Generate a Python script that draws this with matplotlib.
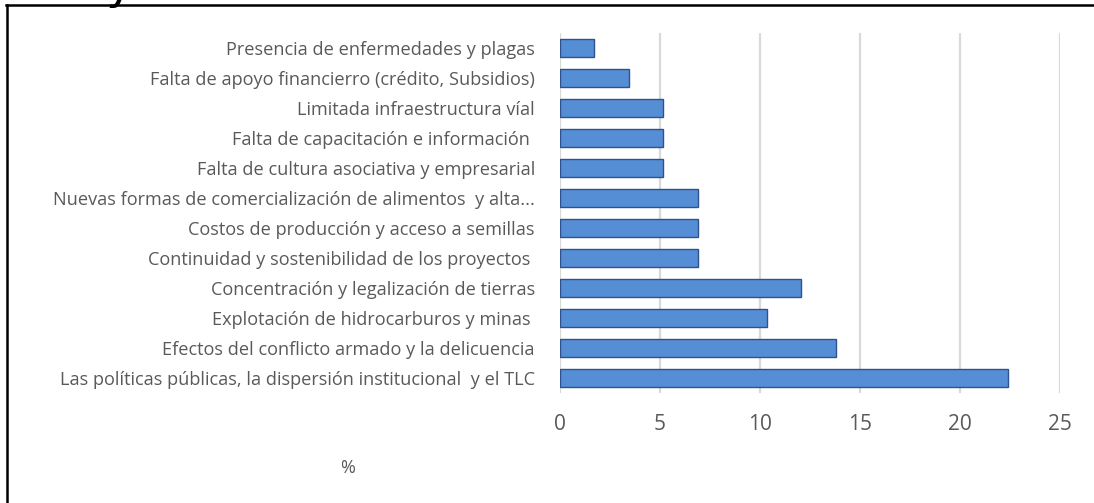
import matplotlib.pyplot as plt

plt.rcParams['font.family'] = ['Open Sans', 'DejaVu Sans']

# categories top to bottom as shown
categorias = [
    "Presencia de enfermedades y plagas",
    "Falta de apoyo financierro (crédito, Subsidios)",
    "Limitada infraestructura víal",
    "Falta de capacitación e información ",
    "Falta de cultura asociativa y empresarial",
    "Nuevas formas de comercialización de alimentos  y alta...",
    "Costos de producción y acceso a semillas",
    "Continuidad y sostenibilidad de los proyectos ",
    "Concentración y legalización de tierras",
    "Explotación de hidrocarburos y minas ",
    "Efectos del conflicto armado y la delicuencia",
    "Las políticas públicas, la dispersión institucional  y el TLC",
]
porcentajes = [1.72, 3.45, 5.17, 5.17, 5.17, 6.90, 6.90, 6.90, 12.07, 10.34, 13.79, 22.41]
ticks_x = [0, 5, 10, 15, 20, 25]

gris = "#595959"

fig = plt.figure(figsize=(10.94, 5.03), dpi=100)
ax = fig.add_axes([560 / 1094, 1 - 393 / 503, 500 / 1094, 360 / 503])

pos = list(range(len(categorias)))
ax.barh(pos, porcentajes, height=0.57, color="#558ED5", edgecolor="#2E528F",
        linewidth=1.0, zorder=3)
ax.set_ylim(len(categorias) - 0.5, -0.5)
ax.set_xlim(0, 25)
ax.set_yticks(pos)
ax.set_yticklabels(categorias, fontsize=13.1, color=gris)
ax.set_xticks(ticks_x)
ax.set_xticklabels([str(t) for t in ticks_x], fontsize=15, color=gris)
ax.tick_params(axis="both", length=0)
ax.tick_params(axis="y", pad=18)
ax.tick_params(axis="x", pad=15)
ax.grid(axis="x", color="#D9D9D9", linewidth=1.6, zorder=0)
for s in ax.spines.values():
    s.set_visible(False)

fig.text(348 / 1094, 1 - 468 / 503, "%", fontsize=13, color=gris,
         ha="center", va="center")

# frame of the pasted chart (top and left edges visible)
fig.add_artist(plt.Line2D([6 / 1094, 1.0], [1 - 5 / 503, 1 - 5 / 503],
                          color="black", linewidth=1.8, transform=fig.transFigure))
fig.add_artist(plt.Line2D([6.5 / 1094, 6.5 / 1094], [0, 1 - 5 / 503],
                          color="black", linewidth=1.8, transform=fig.transFigure))
# cut-off letter of a title above the crop (only its tail shows)
fig.text(106 / 1094, 1 + 2 / 503, "y", fontsize=34,
         color="black", ha="left", va="baseline", family="DejaVu Sans")

fig.savefig("out.png", dpi=100)
